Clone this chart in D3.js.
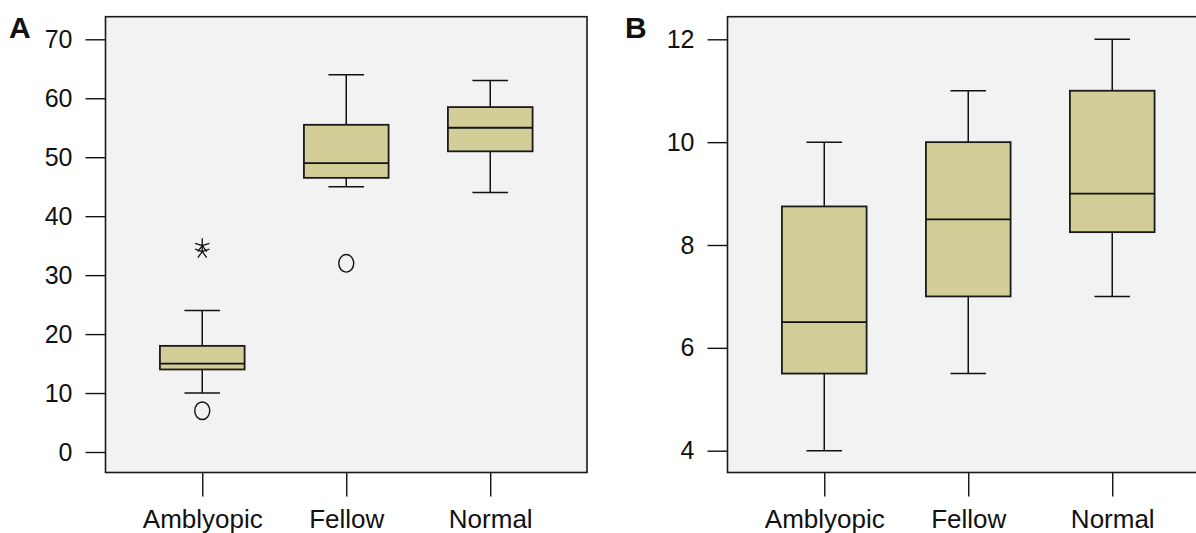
<!DOCTYPE html>
<html>
<head>
<meta charset="utf-8">
<script src="https://cdn.jsdelivr.net/npm/d3@7"></script>
<style>
  html, body { margin: 0; padding: 0; background: #fff; overflow: hidden; }
  svg { display: block; }
  text { font-family: "Liberation Sans", Arial, Helvetica, sans-serif; fill: #111; }
</style>
</head>
<body>
<svg id="chart" width="1196" height="533"></svg>
<script>
// ---------- data ----------
const categories = ["Amblyopic", "Fellow", "Normal"];

// Panel A
const aMin    = [10, 45, 44];
const aQ1     = [14, 46.5, 51];
const aMedian = [15, 49, 55];
const aQ3     = [18, 55.5, 58.5];
const aMax    = [24, 64, 63];
const aOutlierCats  = ["Amblyopic", "Fellow"];
const aOutlierVals  = [7, 32];
const aExtremeCats  = ["Amblyopic", "Amblyopic"];
const aExtremeVals  = [35, 34];
const aTicks  = [0, 10, 20, 30, 40, 50, 60, 70];

// Panel B
const bMin    = [4, 5.5, 7];
const bQ1     = [5.5, 7, 8.25];
const bMedian = [6.5, 8.5, 9];
const bQ3     = [8.75, 10, 11];
const bMax    = [10, 11, 12];
const bTicks  = [4, 6, 8, 10, 12];

// ---------- drawing ----------
const svg = d3.select("#chart");
const boxFill = "#d3ce98";
const plotBg = "#f1f2f1";

function panel(opts) {
  const g = svg.append("g");
  const { left, right, top, bottom } = opts.frame;

  g.append("rect")
    .attr("x", left).attr("y", top)
    .attr("width", right - left).attr("height", bottom - top)
    .attr("fill", plotBg).attr("stroke", "#1a1a1a").attr("stroke-width", 1.6);

  const x = d3.scalePoint().domain(categories).range([left, right]).padding(0.672);
  const y = d3.scaleLinear().domain(opts.yDomain).range(opts.yRange);

  // y axis
  const ya = g.append("g").attr("transform", `translate(${left},0)`)
    .call(d3.axisLeft(y).tickValues(opts.ticks).tickSize(20).tickPadding(13).tickFormat(d3.format("d")));
  ya.select(".domain").remove();
  ya.selectAll(".tick line").attr("stroke", "#111").attr("stroke-width", 1.4);
  ya.selectAll(".tick text").style("font-size", "25px").attr("fill", "#111")
    .style("font-family", '"Liberation Sans", Arial, sans-serif');

  // x axis
  const xa = g.append("g").attr("transform", `translate(0,${bottom})`)
    .call(d3.axisBottom(x).tickSize(24).tickPadding(13.3));
  xa.select(".domain").remove();
  xa.selectAll(".tick line").attr("stroke", "#111").attr("stroke-width", 1.4);
  xa.selectAll(".tick text").style("font-size", "26px").attr("fill", "#111")
    .style("font-family", '"Liberation Sans", Arial, sans-serif');

  const boxW = x.step() * 0.588;
  const capW = x.step() * 0.247;

  const data = categories.map((c, i) => ({
    c, min: opts.min[i], q1: opts.q1[i], med: opts.median[i], q3: opts.q3[i], max: opts.max[i]
  }));

  const bx = g.append("g").selectAll("g").data(data).join("g");
  // whiskers
  bx.append("line")
    .attr("x1", d => x(d.c)).attr("x2", d => x(d.c))
    .attr("y1", d => y(d.max)).attr("y2", d => y(d.q3))
    .attr("stroke", "#111").attr("stroke-width", 1.5);
  bx.append("line")
    .attr("x1", d => x(d.c)).attr("x2", d => x(d.c))
    .attr("y1", d => y(d.q1)).attr("y2", d => y(d.min))
    .attr("stroke", "#111").attr("stroke-width", 1.5);
  bx.append("line")
    .attr("x1", d => x(d.c) - capW / 2).attr("x2", d => x(d.c) + capW / 2)
    .attr("y1", d => y(d.max)).attr("y2", d => y(d.max))
    .attr("stroke", "#111").attr("stroke-width", 1.5);
  bx.append("line")
    .attr("x1", d => x(d.c) - capW / 2).attr("x2", d => x(d.c) + capW / 2)
    .attr("y1", d => y(d.min)).attr("y2", d => y(d.min))
    .attr("stroke", "#111").attr("stroke-width", 1.5);
  // box
  bx.append("rect")
    .attr("x", d => x(d.c) - boxW / 2).attr("width", boxW)
    .attr("y", d => y(d.q3)).attr("height", d => y(d.q1) - y(d.q3))
    .attr("fill", boxFill).attr("stroke", "#1a1a1a").attr("stroke-width", 1.8);
  // median
  bx.append("line")
    .attr("x1", d => x(d.c) - boxW / 2).attr("x2", d => x(d.c) + boxW / 2)
    .attr("y1", d => y(d.med)).attr("y2", d => y(d.med))
    .attr("stroke", "#111").attr("stroke-width", 1.8);

  // outliers (circles)
  if (opts.outCats) {
    g.append("g").selectAll("ellipse").data(opts.outCats.map((c, i) => ({ c, v: opts.outVals[i] })))
      .join("ellipse")
      .attr("cx", d => x(d.c)).attr("cy", d => y(d.v))
      .attr("rx", 7.5).attr("ry", 8.8)
      .attr("fill", "none").attr("stroke", "#111").attr("stroke-width", 1.4);
  }
  // extremes (5-armed asterisks)
  if (opts.extCats) {
    const r = 7.5;
    g.append("g").selectAll("path").data(opts.extCats.map((c, i) => ({ c, v: opts.extVals[i] })))
      .join("path")
      .attr("d", d => {
        const cx = x(d.c), cy = y(d.v);
        const p = d3.path();
        for (let k = 0; k < 5; k++) {
          const a = Math.PI / 2 + k * 2 * Math.PI / 5;
          p.moveTo(cx, cy);
          p.lineTo(cx + r * Math.cos(a), cy - r * Math.sin(a));
        }
        return p.toString();
      })
      .attr("fill", "none").attr("stroke", "#111").attr("stroke-width", 1.3);
  }

  g.append("text").attr("x", opts.labelX).attr("y", 37.7)
    .style("font-size", "30px").style("font-weight", "bold").text(opts.label);
}

panel({
  frame: { left: 105.5, right: 587, top: 16.7, bottom: 472.5 },
  yDomain: [0, 70], yRange: [452, 39.3], ticks: aTicks,
  min: aMin, q1: aQ1, median: aMedian, q3: aQ3, max: aMax,
  outCats: aOutlierCats, outVals: aOutlierVals,
  extCats: aExtremeCats, extVals: aExtremeVals,
  label: "A", labelX: 9
});

panel({
  frame: { left: 727.5, right: 1209, top: 16.7, bottom: 472.5 },
  yDomain: [4, 12], yRange: [450.7, 39.3], ticks: bTicks,
  min: bMin, q1: bQ1, median: bMedian, q3: bQ3, max: bMax,
  label: "B", labelX: 625
});
</script>
</body>
</html>
